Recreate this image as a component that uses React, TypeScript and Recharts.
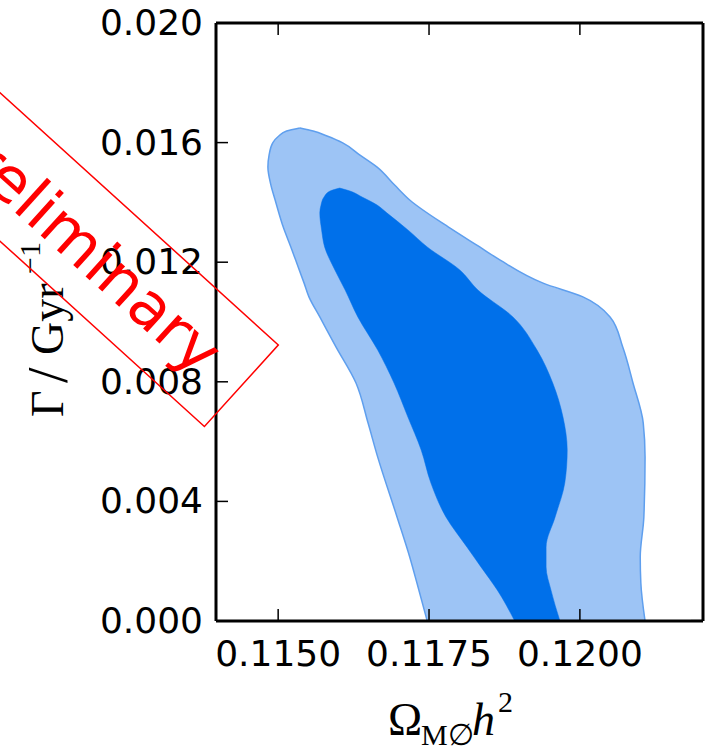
import React from 'react';
import { ComposedChart, Area, XAxis, YAxis } from 'recharts';

// Axis ticks
const yTicks = [0, 0.004, 0.008, 0.012, 0.016, 0.02];
const xTicks = [0.115, 0.1175, 0.12];
const xDomain = [0.11397, 0.12204];
const yDomain = [0, 0.02];

// Outer (95%) contour: for each Gamma value, the left and right Omega h^2 edge
const outerY = [0.01649, 0.01639, 0.01622, 0.01599, 0.01559, 0.01518, 0.01458, 0.01408, 0.01314, 0.01251, 0.01207, 0.0113, 0.01084, 0.01017, 0.00916, 0.00796, 0.00662, 0.00548, 0.00348, 0.00214, 0.00127, 0];
const outerLo = [0.11536, 0.11514, 0.11501, 0.11491, 0.11485, 0.11483, 0.11488, 0.11495, 0.11509, 0.11521, 0.11529, 0.11543, 0.11551, 0.11569, 0.11596, 0.11629, 0.11649, 0.11665, 0.11697, 0.11718, 0.1173, 0.11747];
const outerHi = [0.11536, 0.11558, 0.11581, 0.11607, 0.11635, 0.11664, 0.11693, 0.11718, 0.11785, 0.11834, 0.11868, 0.11939, 0.12005, 0.1205, 0.12071, 0.12088, 0.12105, 0.12108, 0.12106, 0.121, 0.12101, 0.12108];

// Inner (68%) contour
const innerY = [0.01448, 0.01438, 0.01418, 0.01391, 0.01365, 0.01308, 0.01251, 0.01174, 0.01107, 0.01017, 0.00906, 0.00796, 0.00682, 0.00572, 0.00462, 0.00348, 0.00247, 0.00181, 0.00104, 0];
const innerLo = [0.11602, 0.11586, 0.11576, 0.11571, 0.11569, 0.11572, 0.11577, 0.11594, 0.11611, 0.11632, 0.11665, 0.11692, 0.11715, 0.11737, 0.11753, 0.11778, 0.11813, 0.11836, 0.11863, 0.11892];
const innerHi = [0.11602, 0.11619, 0.11639, 0.11664, 0.1168, 0.11715, 0.11747, 0.11801, 0.11831, 0.11889, 0.11929, 0.11955, 0.11972, 0.11979, 0.11975, 0.11959, 0.11944, 0.11944, 0.11952, 0.11967];

const buildRows = () => {
  const ys = Array.from(new Set([...outerY, ...innerY])).sort((a, b) => b - a);
  return ys.map((y) => {
    const oi = outerY.indexOf(y);
    const ii = innerY.indexOf(y);
    return {
      y,
      outer: oi >= 0 ? [outerLo[oi], outerHi[oi]] : [null, null],
      inner: ii >= 0 ? [innerLo[ii], innerHi[ii]] : [null, null],
    };
  });
};
const rows = buildRows();

const FONT = '"DejaVu Sans", sans-serif';
const SERIF = '"Liberation Serif", "DejaVu Serif", serif';

const LeftTick = (props: any) => (
  <text x={props.x} y={props.y + 12} textAnchor="end" fontFamily={FONT} fontSize={36} fill="#000">
    {Number(props.payload.value).toFixed(3)}
  </text>
);
const BottomTick = (props: any) => (
  <text x={props.x} y={props.y + 45} textAnchor="middle" fontFamily={FONT} fontSize={36} fill="#000">
    {Number(props.payload.value).toFixed(4)}
  </text>
);
const NoTick = () => <g />;

const axisLine = { stroke: '#000', strokeWidth: 3 };
const tickLine = { stroke: '#000', strokeWidth: 1.5 };

export default function App() {
  return (
    <div style={{ position: 'absolute', left: 0, top: 0, width: 705, height: 754, background: '#fff' }}>
      <ComposedChart
        width={705}
        height={754}
        data={rows}
        layout="vertical"
        margin={{ top: 22, right: 0, bottom: 0, left: 0 }}
      >
        <XAxis
          xAxisId={0}
          type="number"
          domain={xDomain}
          allowDataOverflow
          ticks={xTicks}
          interval={0}
          orientation="bottom"
          height={133}
          axisLine={axisLine}
          tickLine={tickLine}
          tickSize={-12}
          tickMargin={12}
          tick={BottomTick}
        />
        <XAxis
          xAxisId="top"
          type="number"
          domain={xDomain}
          allowDataOverflow
          ticks={xTicks}
          interval={0}
          orientation="top"
          height={1}
          axisLine={axisLine}
          tickLine={tickLine}
          tickSize={-12}
          tick={NoTick}
        />
        <YAxis
          yAxisId={0}
          type="number"
          dataKey="y"
          domain={yDomain}
          allowDataOverflow
          reversed
          ticks={yTicks}
          interval={0}
          orientation="left"
          width={216}
          axisLine={axisLine}
          tickLine={tickLine}
          tickSize={-12}
          tickMargin={25}
          tick={LeftTick}
        />
        <YAxis
          yAxisId="right"
          type="number"
          domain={yDomain}
          allowDataOverflow
          reversed
          ticks={yTicks}
          interval={0}
          orientation="right"
          width={2}
          axisLine={axisLine}
          tickLine={tickLine}
          tickSize={-12}
          tick={NoTick}
        />
        <Area
          dataKey="outer"
          type="monotone"
          connectNulls
          fill="#9dc4f5"
          fillOpacity={1}
          stroke="#5f9fee"
          strokeWidth={1.5}
          isAnimationActive={false}
          dot={false}
          activeDot={false}
        />
        <Area
          dataKey="inner"
          type="monotone"
          connectNulls
          fill="#0070ea"
          fillOpacity={1}
          stroke="#0070ea"
          strokeWidth={0.5}
          isAnimationActive={false}
          dot={false}
          activeDot={false}
        />
      </ComposedChart>
      <svg
        width={705}
        height={754}
        style={{ position: 'absolute', left: 0, top: 0, pointerEvents: 'none' }}
      >
        <text transform="translate(63,417) rotate(-90)" fontFamily={SERIF} fontSize={46} fill="#000">
          <tspan x={0} y={0}>Γ</tspan>
          <tspan x={34} y={4} fontSize={56}>/</tspan>
          <tspan x={62} y={0}>Gyr</tspan>
          <tspan x={143} y={-23} fontSize={30}>−1</tspan>
        </text>
        <text fontFamily={SERIF} fontSize={46} fill="#000">
          <tspan x={388} y={735}>Ω</tspan>
          <tspan x={421} y={745} fontSize={30}>M∅</tspan>
          <tspan x={472} y={735} fontStyle="italic">h</tspan>
          <tspan x={498} y={712} fontSize={30}>2</tspan>
        </text>
        <g transform="translate(278.3,345) rotate(42.2)">
          <rect x={-700} y={0} width={700} height={110} fill="none" stroke="#ff0000" strokeWidth={1.5} />
          <text x={-38} y={78.6} textAnchor="end" fontFamily={FONT} fontSize={62} fill="#ff0000">
            Preliminary
          </text>
        </g>
      </svg>
    </div>
  );
}
